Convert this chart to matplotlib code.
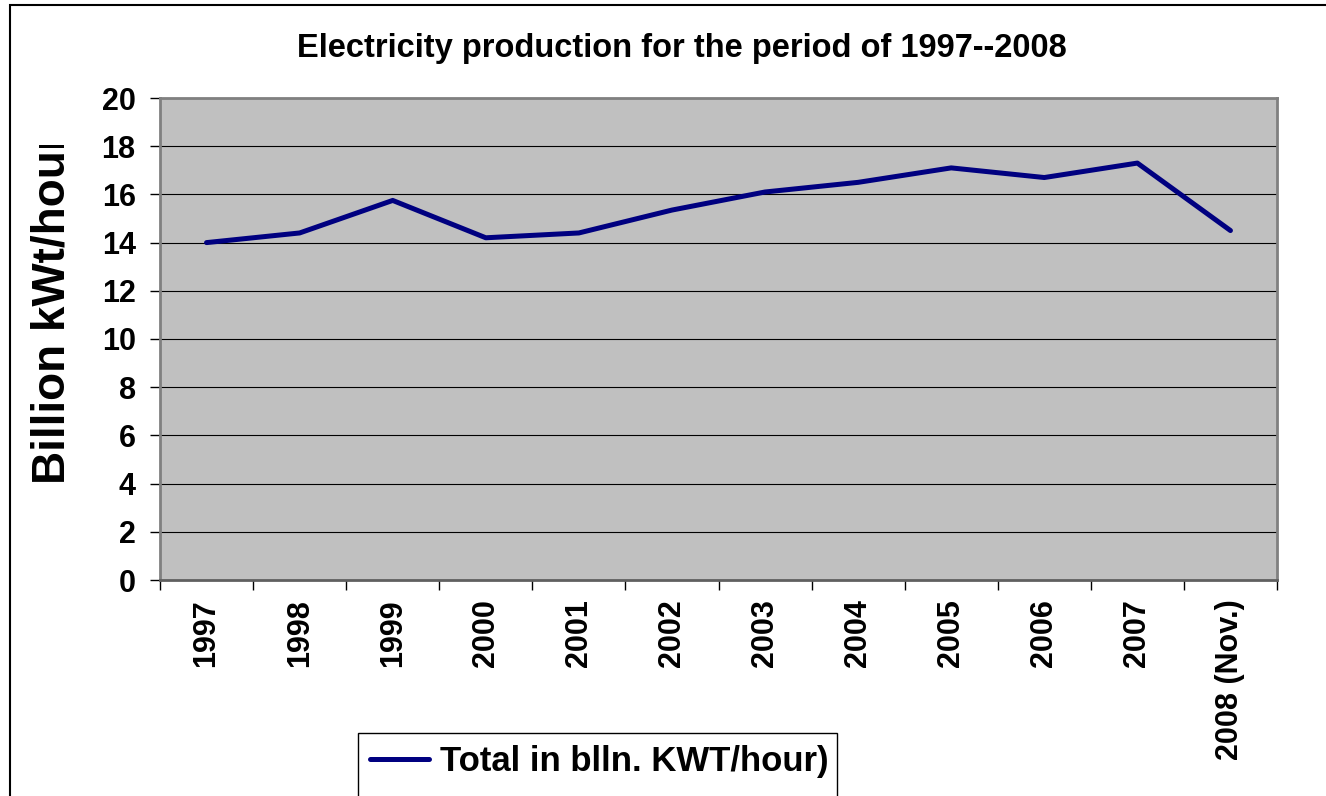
import matplotlib
matplotlib.use("Agg")
import matplotlib.pyplot as plt
from matplotlib.patches import Rectangle
from matplotlib.transforms import Bbox

years = ["1997", "1998", "1999", "2000", "2001", "2002", "2003",
         "2004", "2005", "2006", "2007", "2008 (Nov.)"]
total = [14.0, 14.4, 15.75, 14.2, 14.4, 15.35, 16.1, 16.5, 17.1, 16.7, 17.3, 14.5]
yticks = [0, 2, 4, 6, 8, 10, 12, 14, 16, 18, 20]

title = "Electricity production for the period of 1997--2008"
ylabel = "Billion kWt/hour"
series_name = "Total in blln. KWT/hour)"

plt.rcParams['font.family'] = ['Liberation Sans', 'DejaVu Sans']
plt.rcParams['font.weight'] = 'bold'

W, H = 1326, 796
fig = plt.figure(figsize=(W / 100, H / 100), dpi=100)

# frame around the whole chart (runs off the right and bottom edges)
fig.add_artist(Rectangle((10 / W, -0.05), 1.1, 1 - 5 / H + 0.05,
                         transform=fig.transFigure, fill=False,
                         edgecolor='black', linewidth=1.5))

ax = fig.add_axes([160 / W, 1 - 580 / H, (1277 - 160) / W, (580 - 98) / H])
ax.set_facecolor('#C0C0C0')

x = list(range(len(years)))
line, = ax.plot(x, total, color='#000080', linewidth=3.6,
                solid_capstyle='round', label=series_name, zorder=3)

ax.set_xlim(-0.5, len(years) - 0.5)
ax.set_ylim(0, 20)
ax.set_yticks(yticks)
ax.set_yticklabels([str(v) for v in yticks])
ax.grid(axis='y', color='black', linewidth=0.8)
ax.set_axisbelow(True)

# category labels at centres, tick marks between categories
ax.set_xticks(x)
ax.set_xticklabels(years, rotation=90)
ax.set_xticks([i - 0.5 for i in range(len(years) + 1)], minor=True)
ax.tick_params(axis='x', which='major', length=0, pad=14, labelsize=22)
ax.tick_params(axis='x', which='minor', length=7.5, width=1, color='black',
               direction='out')
ax.tick_params(axis='y', length=7.5, width=1, color='black', direction='out',
               pad=10, labelsize=22)

for side in ['left', 'right', 'top', 'bottom']:
    ax.spines[side].set_color('#808080')
    ax.spines[side].set_linewidth(2.0)
ax.spines['bottom'].set_color('#606060')

fig.text(682 / W, 1 - 48 / H, title, ha='center', va='center',
         fontsize=23.5, fontweight='bold')

lab = fig.text(53 / W, 1 - 484 / H, ylabel, rotation=90, ha='center',
               va='bottom', fontsize=33, fontweight='bold')
lab.set_clip_box(Bbox([[0, 0], [300, H - 145]]))
lab.set_clip_on(True)

# legend box, cut by the bottom edge of the picture
fig.add_artist(Rectangle((358 / W, -0.05), (837 - 358) / W, 0.05 + 1 - 733 / H,
                         transform=fig.transFigure, fill=False,
                         edgecolor='black', linewidth=1.0))
leg = fig.legend(handles=[line], loc='upper left',
                 bbox_to_anchor=(358 / W, 1 - 733 / H),
                 bbox_transform=fig.transFigure, fontsize=25,
                 frameon=False, borderpad=0.35, handlelength=1.7,
                 handletextpad=0.3, borderaxespad=0)

fig.savefig("out.png", dpi=100)
